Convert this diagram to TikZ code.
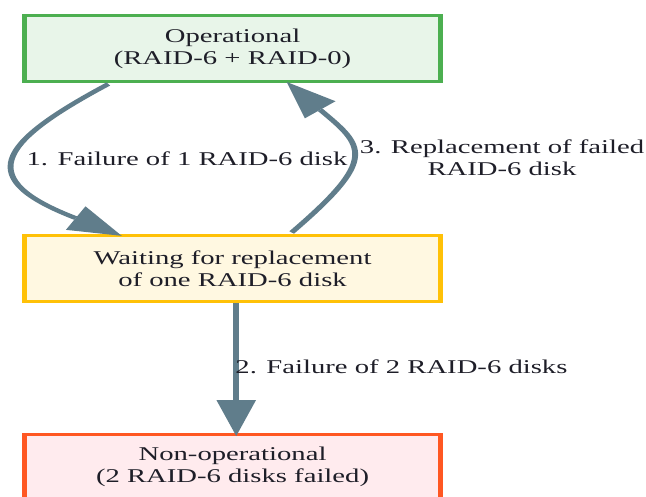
\documentclass[tikz,border=0pt]{standalone}
\usepackage{fontspec}
\setmainfont{Liberation Serif}
\usetikzlibrary{arrows.meta,calc}
\definecolor{opfill}{HTML}{E8F5E9}
\definecolor{opdraw}{HTML}{4CAF50}
\definecolor{waitfill}{HTML}{FFF8E1}
\definecolor{waitdraw}{HTML}{FFC107}
\definecolor{nonfill}{HTML}{FFEBEE}
\definecolor{nondraw}{HTML}{FF5722}
\definecolor{arrowc}{HTML}{607D8B}
\definecolor{txt}{HTML}{1E1E28}
\begin{document}
\begin{tikzpicture}[x=1pt,y=-1pt,
  state/.style={draw, line width=3pt, minimum width=283pt, minimum height=66pt,
    align=center, font=\fontsize{19.5}{22}\selectfont, text=txt, inner sep=0pt},
  edgeline/.style={draw=arrowc, line width=4pt,
    -{Triangle[length=36pt,width=27pt,line width=0pt]}},
  lbl/.style={font=\fontsize{19.5}{22}\selectfont, text=txt, align=center, inner sep=0pt}]
\useasboundingbox (0,0) rectangle (646,497);
\clip (0,0) rectangle (646,497);
\begin{scope}[transform canvas={xscale=1.47}]
  \node[state, fill=opfill, draw=opdraw] (op) at (158.2,48.5) {Operational\\(RAID-6 + RAID-0)};
  \node[state, fill=waitfill, draw=waitdraw] (wait) at (158.2,268.5) {Waiting for replacement\\of one RAID-6 disk};
  \node[state, fill=nonfill, draw=nondraw] (non) at (158.2,467) {Non-operational\\(2 RAID-6 disks failed)};

  \draw[edgeline, shorten >=-36pt] ($(op.south)+(-84.5,1)$) .. controls +(-77.4,60.7) and +(-68.3,-38.7) .. ($(wait.north)+(-106.7,-15.9)$);
  \draw[edgeline, shorten >=-36pt] ($(wait.north)+(40.2,-1.5)$) .. controls +(59.1,-74.3) and +(30,36.6) .. ($(op.south)+(59.6,26.8)$);
  \draw[edgeline] ($(wait.south)+(2.5,0)$) -- ($(non.north)+(2.5,3.5)$);

  \node[lbl] (l1) at (127.2,159) {1. Failure of 1 RAID-6 disk};
  \node[lbl] (l3) at (341.5,158) {3. Replacement of failed\\RAID-6 disk};
  \node[lbl] (l2) at (273.1,367) {2. Failure of 2 RAID-6 disks};
\end{scope}
\end{tikzpicture}
\end{document}
